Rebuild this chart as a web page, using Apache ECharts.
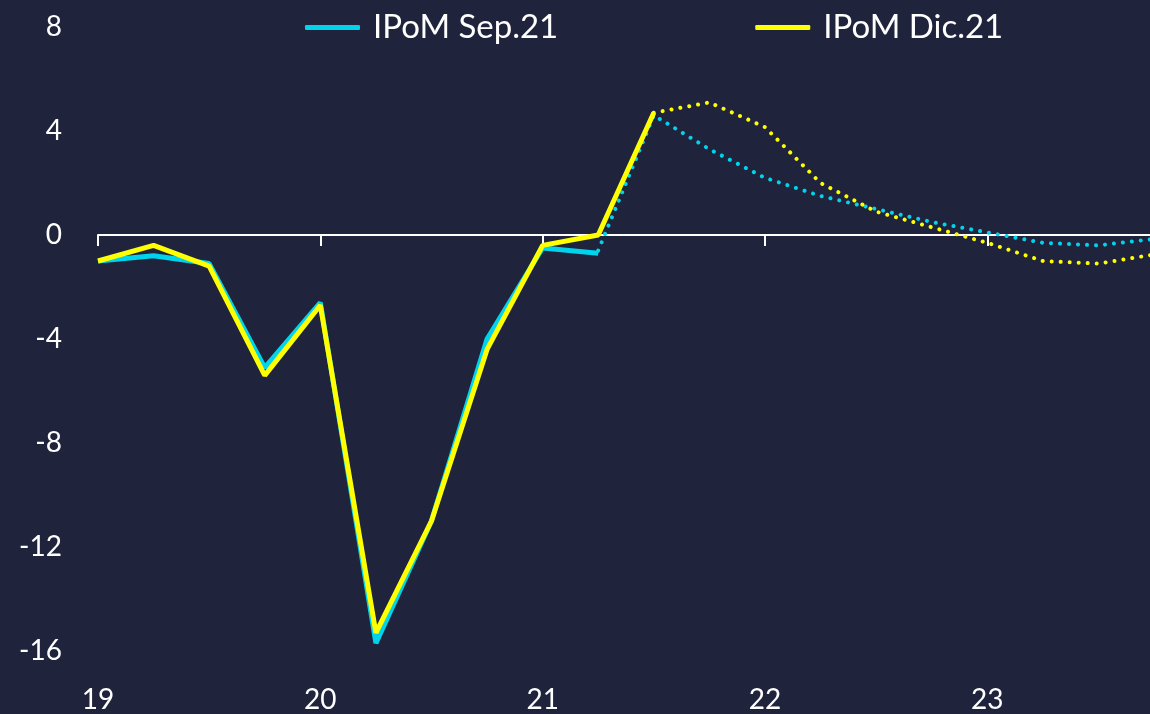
<!DOCTYPE html>
<html>
<head>
<meta charset="utf-8">
<script src="https://cdn.jsdelivr.net/npm/echarts@6/dist/echarts.min.js"></script>
<style>
  html, body { margin: 0; padding: 0; background: #1f243c; }
  #chart { width: 1150px; height: 714px; }
</style>
</head>
<body>
<div id="chart"></div>
<script>
// trimestres desde 2019T1 (indice 0) hasta 2023T4 (indice 19)
var yearLabels = ['19', '20', '21', '22', '23'];
var seriesNames = ['IPoM Sep.21', 'IPoM Dic.21'];

// IPoM Sep.21: efectivo (0..9) y proyeccion (9..19)
var sepReal = [-1.0, -0.8, -1.1, -5.1, -2.6, -15.7, -11.0, -4.0, -0.5, -0.7];
var sepProj = [-0.6, 4.6, 3.3, 2.2, 1.5, 1.0, 0.5, 0.1, -0.3, -0.4, -0.15];
// IPoM Dic.21: efectivo (0..10) y proyeccion (10..19)
var dicReal = [-1.0, -0.4, -1.2, -5.4, -2.7, -15.3, -11.0, -4.4, -0.4, 0.0, 4.7];
var dicProj = [4.7, 5.1, 4.15, 2.0, 0.9, 0.3, -0.3, -1.0, -1.1, -0.75];

var cyan = '#00d4ec';
var yellow = '#ffff00';

function toPoints(arr, start) {
    return arr.map(function (v, i) { return [start + i, v]; });
}

var chart = echarts.init(document.getElementById('chart'));
var fontFam = 'Lato, "Open Sans", sans-serif';

var option = {
    backgroundColor: '#1f243c',
    animation: false,
    // ancho fijo: el ultimo trimestre queda apenas fuera del borde derecho
    grid: { left: 98, width: 1056, top: 27, bottom: 63, outerBoundsMode: 'none', containLabel: false },
    legend: {
        data: seriesNames,
        top: 6,
        left: 300,
        itemGap: 197,
        itemWidth: 55,
        itemHeight: 5,
        icon: 'roundRect',
        textStyle: { color: '#ffffff', fontSize: 33, fontFamily: fontFam, padding: [0, 0, 0, 8] }
    },
    xAxis: [{
        // linea en cero con marcas
        type: 'value', min: 0, max: 19, interval: 4,
        axisLine: { onZero: true, lineStyle: { color: '#ffffff', width: 2 } },
        axisTick: { show: true, length: 11, lineStyle: { color: '#ffffff', width: 2 } },
        axisLabel: { show: false },
        splitLine: { show: false }
    }, {
        // etiquetas de anios abajo
        type: 'value', min: 0, max: 19, interval: 4, position: 'bottom',
        axisLine: { show: false, onZero: false },
        axisTick: { show: false },
        axisLabel: {
            color: '#ffffff', fontSize: 28, fontFamily: fontFam, margin: 35,
            formatter: function (v) { return yearLabels[v / 4] || ''; }
        },
        splitLine: { show: false }
    }],
    yAxis: {
        type: 'value', min: -16, max: 8, interval: 4,
        axisLine: { show: false },
        axisTick: { show: false },
        splitLine: { show: false },
        axisLabel: { color: '#ffffff', fontSize: 28, fontFamily: fontFam, margin: 36 }
    },
    series: [{
        name: seriesNames[0], type: 'line', data: toPoints(sepReal, 0),
        symbol: 'none', color: cyan, lineStyle: { color: cyan, width: 5 }, z: 2
    }, {
        name: seriesNames[0], type: 'line', data: toPoints(sepProj, 9),
        symbol: 'none', color: cyan,
        lineStyle: { color: cyan, width: 4, type: [0.01, 9], cap: 'round' }, z: 2
    }, {
        name: seriesNames[1], type: 'line', data: toPoints(dicReal, 0),
        symbol: 'none', color: yellow, lineStyle: { color: yellow, width: 5 }, z: 3
    }, {
        name: seriesNames[1], type: 'line', data: toPoints(dicProj, 10),
        symbol: 'none', color: yellow,
        lineStyle: { color: yellow, width: 4, type: [0.01, 9], cap: 'round' }, z: 3
    }]
};

chart.setOption(option);
</script>
</body>
</html>
